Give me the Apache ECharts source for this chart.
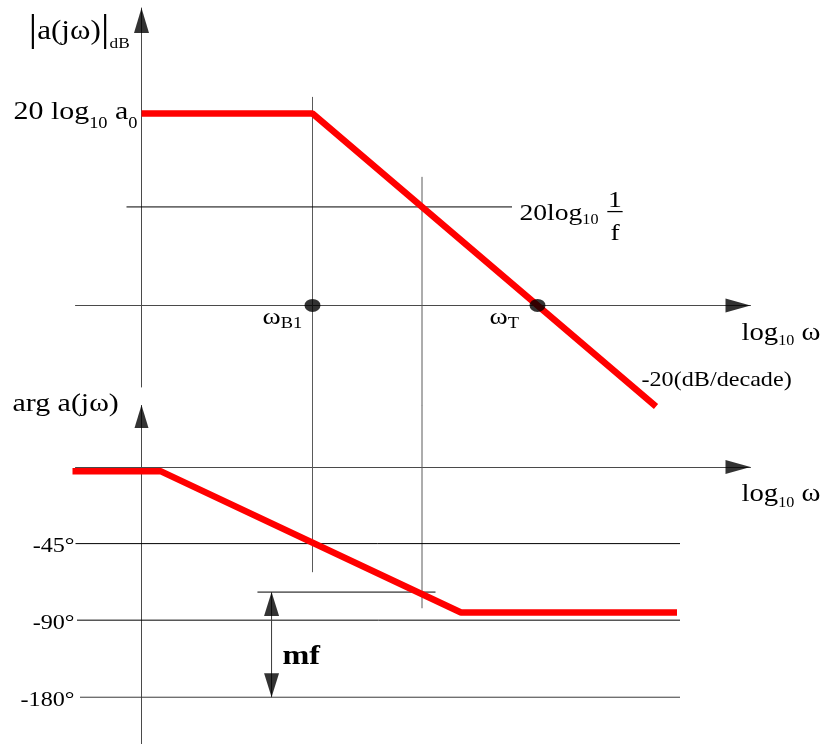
<!DOCTYPE html>
<html>
<head>
<meta charset="utf-8">
<script src="https://cdn.jsdelivr.net/npm/echarts@6/dist/echarts.min.js"></script>
<style>
  html, body { margin: 0; padding: 0; background: #fff; }
  #chart { width: 827px; height: 744px; }
</style>
</head>
<body>
<div id="chart"></div>
<script>
// Horizontal scale: log10 ω in decades, measured from the vertical axes
const wB1 = 1.14;          // dominant pole ω_B1
const wT = 2.64;           // unity-gain frequency ω_T
const wX = 1.87;           // where |a| meets 20log10(1/f)

// Magnitude asymptote (dB): flat at 20log10 a0, then -20 dB/decade
const magX = [0, 1.14, 3.43];
const magDb = [30, 30, -15.8];

// Closed-loop level 20log10(1/f)
const feedbackDb = 15.4;
const feedbackX = [-0.1, 2.47];

// Phase asymptote (degrees), corners one decade either side of ω_B1
const phaseX = [-0.46, 0.13, 2.13, 3.57];
const phaseDeg = [-2.5, -2.5, -85.5, -85.5];

// Phase reference levels and their tick labels
const phaseLevels = [-45, -90, -180];
const phaseTickLabels = ['-45°', '-90°', '-180°'];
const phaseLevelX = [[-0.44, 3.59], [-0.43, 3.59], [-0.41, 3.59]];

// Phase where the loop gain crosses 20log10(1/f), and the margin arrow
const phaseAtCross = -73.5;
const phaseCrossX = [0.773, 1.96];
const marginX = 0.867;

// Vertical marker lines at ω_B1 and at the crossing (dB part, degree part)
const guideB1Db = [32.6, -15.6];
const guideB1Deg = [36.5, -61.8];
const guideXDb = [20.1, -15.6];
const guideXDeg = [36.5, -83];

// Axis ranges
const xRange = [-0.44, 4.06];
const dbRange = [-12.75, 46.5];
const degRange = [-207.5, 36.5];

const RED = '#ff0000';
const AXIS = '#4a4a4a';
const FONT = 'Liberation Serif';

const chart = echarts.init(document.getElementById('chart'), null, { renderer: 'canvas' });

const xAxisCfg = (g) => ({
  type: 'value', gridIndex: g, min: xRange[0], max: xRange[1],
  axisLine: { show: true, onZero: true, lineStyle: { color: AXIS, width: 1 } },
  axisTick: { show: false }, axisLabel: { show: false }, splitLine: { show: false }
});

function seg(g, xs, ys, color, width, z) {
  return {
    type: 'line', xAxisIndex: g, yAxisIndex: g,
    data: xs.map((x, i) => [x, ys[i]]),
    symbol: 'none', clip: false, silent: true, z: z || 2,
    lineStyle: { color: color, width: width }
  };
}

function arrowHeads(g, pts) {
  return {
    type: 'scatter', xAxisIndex: g, yAxisIndex: g, clip: false, silent: true, z: 6,
    symbol: 'triangle',
    itemStyle: { color: '#000' },
    data: pts.map(p => ({
      value: p.at, symbolSize: p.size, symbolRotate: p.rot || 0, symbolOffset: p.off
    }))
  };
}

const series = [
  // magnitude plot
  seg(0, [wB1, wB1], guideB1Db, '#5a5a5a', 1, 1),
  seg(0, [wX, wX], guideXDb, '#5a5a5a', 1, 1),
  seg(0, feedbackX, [feedbackDb, feedbackDb], '#000', 1, 2),
  seg(0, magX, magDb, RED, 6.5, 4),
  {
    type: 'scatter', xAxisIndex: 0, yAxisIndex: 0, clip: false, silent: true, z: 5,
    symbol: 'circle', symbolSize: [16, 13], itemStyle: { color: '#000' },
    data: [[wB1, 0], [wT, 0]]
  },
  arrowHeads(0, [
    { at: [0, dbRange[1]], size: [15, 25], off: [0, 12.5] },
    { at: [xRange[1], 0], size: [14, 25], rot: -90, off: [-12.5, 0] }
  ]),
  // phase plot: the vertical axis runs unbroken through the compressed span
  seg(1, [0, 0], degRange, AXIS, 1, 1),
  seg(1, [wB1, wB1], guideB1Deg, '#5a5a5a', 1, 1),
  seg(1, [wX, wX], guideXDeg, '#5a5a5a', 1, 1),
  ...phaseLevels.map((lv, i) => seg(1, phaseLevelX[i], [lv, lv], i === 2 ? '#3a3a3a' : '#000', 1, 2)),
  seg(1, phaseCrossX, [phaseAtCross, phaseAtCross], '#000', 1, 2),
  seg(1, [marginX, marginX], [phaseAtCross, -180], '#3a3a3a', 1, 2),
  seg(1, phaseX, phaseDeg, RED, 6.5, 4),
  arrowHeads(1, [
    { at: [0, degRange[1]], size: [14, 23], off: [0, 11.5] },
    { at: [xRange[1], 0], size: [14, 25], rot: -90, off: [-12.5, 0] },
    { at: [marginX, phaseAtCross], size: [15, 24], off: [0, 12] },
    { at: [marginX, -180], size: [15, 24], rot: 180, off: [0, -12] }
  ])
];

chart.setOption({
  animation: false,
  backgroundColor: '#fff',
  grid: [
    { left: 75.5, top: 8, width: 675, height: 379, containLabel: false, outerBoundsMode: 'none' },
    { left: 75.5, top: 405, width: 675, height: 339, containLabel: false, outerBoundsMode: 'none' }
  ],
  xAxis: [xAxisCfg(0), xAxisCfg(1)],
  yAxis: [
    {
      type: 'value', gridIndex: 0, min: dbRange[0], max: dbRange[1],
      axisLine: { show: true, onZero: true, lineStyle: { color: AXIS, width: 1 } },
      axisTick: { show: false }, axisLabel: { show: false }, splitLine: { show: false }
    },
    {
      type: 'value', gridIndex: 1, min: degRange[0], max: degRange[1],
      breaks: [{ start: -170, end: -100, gap: '12.7%' }],
      breakArea: { show: false, itemStyle: { opacity: 0, borderWidth: 0 } },
      axisLine: { show: true, onZero: true, lineStyle: { color: AXIS, width: 1 } },
      axisTick: { show: false }, axisLabel: { show: false }, splitLine: { show: false }
    }
  ],
  series: series
});

// ---- lettering, anchored to data points ----
const SX = 1.15;   // lettering is set slightly wide
const tok = (size, lh, extra) => Object.assign({ fontFamily: FONT, fontSize: size, lineHeight: lh, fill: '#000' }, extra || {});
const sub = (size, lh) => tok(size, lh, { verticalAlign: 'bottom' });

const labels = [
  { g: 0, at: [0, dbRange[1]], off: [-113, 23.5], align: 'left',
    text: '{bar||}{m|a(jω)}{bar||}{s|dB}', rich: { bar: tok(38, 40), m: tok(27, 40), s: sub(15, 11) } },
  { g: 0, at: [0, magDb[0]], off: [-4, -1.5], align: 'right',
    text: '{m|20 log}{s|10}{m| a}{s|0}', rich: { m: tok(26, 40), s: sub(16, 8) } },
  { g: 0, at: [feedbackX[1], feedbackDb], off: [7.5, 6.5], align: 'left',
    text: '{m|20log}{s|10}', rich: { m: tok(24, 28), s: sub(14, 9) } },
  { g: 0, at: [feedbackX[1], feedbackDb], off: [103, -14.5], align: 'center', valign: 'top',
    text: '{n|1}\n{bar|–}\n{d|f}', rich: { n: tok(24, 16), bar: tok(26, 6), d: tok(24, 38) } },
  { g: 0, at: [wB1, 0], off: [-50, 12.6], align: 'left',
    text: '{m|ω}{s|B1}', rich: { m: tok(24, 28), s: sub(16, 9.4) } },
  { g: 0, at: [wT, 0], off: [-48, 12.6], align: 'left',
    text: '{m|ω}{s|T}', rich: { m: tok(24, 28), s: sub(16, 9.4) } },
  { g: 0, at: [xRange[1], 0], off: [-9, 27.8], align: 'left',
    text: '{m|log}{s|10}{m| ω}', rich: { m: tok(25, 30), s: sub(14, 8.8) } },
  { g: 0, at: [magX[2], magDb[2]], off: [-14.5, -26], align: 'left',
    text: '-20(dB/decade)', size: 21 },
  { g: 1, at: [0, degRange[1]], off: [-129, -1], align: 'left',
    text: 'arg a(jω)', size: 26 },
  { g: 1, at: [xRange[1], 0], off: [-9, 27.8], align: 'left',
    text: '{m|log}{s|10}{m| ω}', rich: { m: tok(25, 30), s: sub(14, 8.8) } },
  { g: 1, at: [marginX, -180], off: [11, -40.5], align: 'left',
    text: 'mf', size: 28, weight: 'bold' },
  ...phaseLevels.map((lv, i) => ({
    g: 1, at: [0, lv], off: [-67, 3], align: 'right', text: phaseTickLabels[i], size: 21
  }))
];

const graphic = labels.map(l => {
  const p = chart.convertToPixel({ gridIndex: l.g }, l.at);
  const style = {
    text: l.text, fill: '#000', fontFamily: FONT, fontSize: l.size || 24,
    fontWeight: l.weight || 'normal',
    align: l.align, verticalAlign: l.valign || 'middle'
  };
  if (l.rich) style.rich = l.rich;
  return { type: 'text', x: p[0] + l.off[0], y: p[1] + l.off[1], scaleX: SX, silent: true, z: 100, style: style };
});

chart.setOption({ graphic: graphic });
</script>
</body>
</html>
